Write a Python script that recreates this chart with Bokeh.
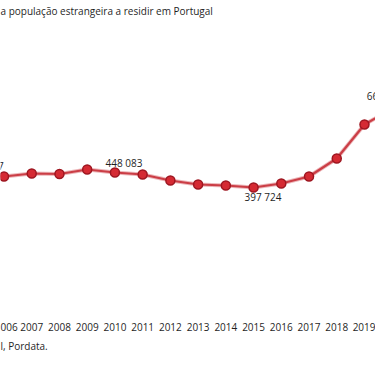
from bokeh.plotting import figure
from bokeh.models import Range1d, FixedTicker, Title, ColumnDataSource
from bokeh.core.properties import value
from bokeh.embed import file_html
from bokeh.resources import INLINE

# ---- data ----
years = [2005, 2006, 2007, 2008, 2009, 2010, 2011, 2012, 2013, 2014, 2015, 2016, 2017, 2018, 2019, 2020]
population = [437127, 434657, 444726, 443050, 458150, 448083, 441370, 421227, 407800, 404440, 397724,
              411156, 434655, 495080, 609219, 662095]
label_years = [2005, 2010, 2015, 2020]
label_values = [437127, 448083, 397724, 662095]
label_texts = ["437 127", "448 083", "397 724", "662 095"]
tick_years = [2006, 2007, 2008, 2009, 2010, 2011, 2012, 2013, 2014, 2015, 2016, 2017, 2018, 2019]
tick_overrides = {2006: "006"}   # first year label is cut at the left edge in the original
title_text = "a população estrangeira a residir em Portugal"
source_text = "l, Pordata."

# ---- layout / style ----
W, H = 375, 366
PX_PER_YEAR = 27.73
PX_PER_UNIT = 3357.0          # value units per pixel
FIRST_X = 3.5                 # canvas x of 2006
REF_Y, REF_V = 172.0, 448083  # canvas y of a reference value
BOTTOM_BORDER = 56
FRAME_TOP, FRAME_BOTTOM = 18.0, float(H - BOTTOM_BORDER)

x0 = 2006 - FIRST_X / PX_PER_YEAR
x1 = x0 + W / PX_PER_YEAR
y1 = REF_V + (REF_Y - FRAME_TOP) * PX_PER_UNIT
y0 = REF_V - (FRAME_BOTTOM - REF_Y) * PX_PER_UNIT

FONT = "Open Sans"
TXT = "#1f1f1f"
RED = "#c8313a"

p = figure(width=W, height=H, output_backend="svg", toolbar_location=None,
           x_range=Range1d(x0, x1), y_range=Range1d(y0, y1),
           y_axis_location=None, min_border_left=0, min_border_right=0,
           min_border_top=0, min_border_bottom=BOTTOM_BORDER)
p.outline_line_color = None
p.grid.visible = False
p.background_fill_color = "white"
p.border_fill_color = "white"

p.title.text = title_text
p.title.text_font = FONT
p.title.text_font_size = "10px"
p.title.text_font_style = "normal"
p.title.text_color = TXT
p.title.align = "left"
p.title.standoff = 2

ax = p.xaxis[0]
ax.ticker = FixedTicker(ticks=tick_years)
ax.major_label_overrides = tick_overrides
ax.axis_line_color = None
ax.major_tick_line_color = None
ax.minor_tick_line_color = None
ax.major_label_standoff = 6
ax.major_label_text_font = FONT
ax.major_label_text_font_size = "10px"
ax.major_label_text_color = TXT

src_title = Title(text=source_text, align="left", text_font=FONT, text_font_size="10px",
                  text_font_style="normal", text_color=TXT, standoff=6)
p.add_layout(src_title, "below")

p.line(years, population, line_color=RED, line_width=4, line_alpha=0.35)
p.line(years, population, line_color=RED, line_width=2.2, line_alpha=0.9)
p.scatter(years, population, size=9, fill_color="#d52a33", line_color="#9e1620", line_width=1.5)

lab = ColumnDataSource(dict(x=label_years, y=label_values, text=label_texts,
                            dx=[9, 9, 9.5, -7], dy=[-10, -10, 9, -12.5]))
p.text(x="x", y="y", text="text", x_offset="dx", y_offset="dy", source=lab,
       text_font=value(FONT), text_font_size="10px", text_color=TXT,
       text_align="center", text_baseline="middle")

open("out.html", "w").write(file_html(p, INLINE))
